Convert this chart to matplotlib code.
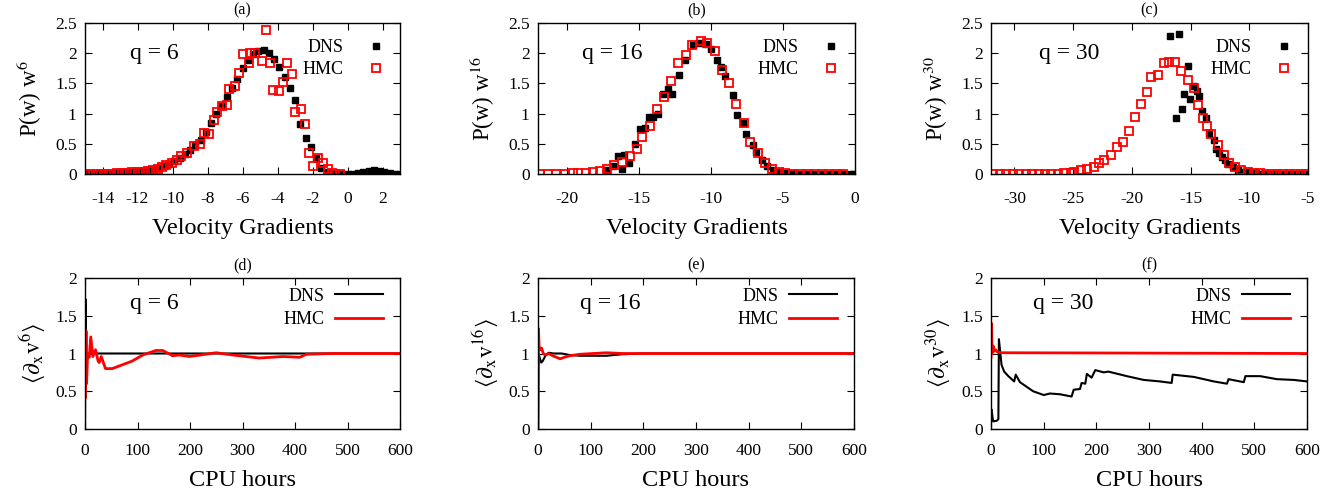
import numpy as np
import matplotlib
matplotlib.use('Agg')
import matplotlib.pyplot as plt
from matplotlib.lines import Line2D
from matplotlib.ticker import FormatStrFormatter

plt.rcParams['font.family'] = ['Liberation Serif', 'DejaVu Serif']
plt.rcParams['mathtext.fontset'] = 'stix'
plt.rcParams['axes.unicode_minus'] = False

# ---- (a) q = 6 ----
dns_a_x = [-15.0, -14.7, -14.4, -14.1, -13.8, -13.5, -13.2, -12.9, -12.6, -12.3,
           -12.0, -11.7, -11.4, -11.1, -10.8, -10.5, -10.2, -9.9, -9.6, -9.3,
           -9.0, -8.7, -8.4, -8.1, -7.8, -7.5, -7.2, -6.9, -6.6, -6.3,
           -6.0, -5.7, -5.4, -5.1, -4.8, -4.5, -4.2, -3.9, -3.6, -3.3,
           -3.0, -2.7, -2.4, -2.1, -1.8, -1.5, -1.2, -0.9, -0.6, -0.3,
           0.0, 0.3, 0.6, 0.9, 1.2, 1.5, 1.8, 2.1, 2.4, 2.7, 3.0]
dns_a_y = [0.0, 0.0, 0.0, 0.0, 0.005, 0.007, 0.01, 0.015, 0.02, 0.025,
           0.035, 0.045, 0.06, 0.075, 0.1, 0.13, 0.17, 0.21, 0.27, 0.33,
           0.4, 0.48, 0.57, 0.7, 0.84, 1.0, 1.13, 1.28, 1.42, 1.57,
           1.75, 1.88, 1.98, 2.03, 2.05, 2.0, 1.9, 1.77, 1.6, 1.42,
           1.22, 0.82, 0.6, 0.45, 0.26, 0.1, 0.04, 0.015, 0.005, 0.0,
           0.0, 0.005, 0.01, 0.03, 0.05, 0.065, 0.055, 0.03, 0.015, 0.005, 0.0]
hmc_a_x = [-15.0, -14.7, -14.4, -14.1, -13.8, -13.5, -13.2, -12.9, -12.6, -12.3,
           -12.0, -11.7, -11.4, -11.1, -10.85, -10.6, -10.35, -10.05, -9.75, -9.5,
           -9.2, -8.8, -8.45, -8.2, -7.9, -7.65, -7.45, -7.2, -6.9, -6.75,
           -6.45, -6.2, -5.95, -5.65, -5.55, -5.3, -4.9, -4.68, -4.43, -4.24,
           -3.9, -3.7, -3.44, -3.19, -3.0, -2.66, -2.43, -2.2, -1.95, -1.67,
           -1.42, -1.1, -0.9, -0.7, -0.45]
hmc_a_y = [0.0, 0.0, 0.0, 0.003, 0.005, 0.008, 0.01, 0.015, 0.02, 0.025,
           0.03, 0.04, 0.05, 0.065, 0.09, 0.12, 0.15, 0.19, 0.23, 0.29,
           0.35, 0.47, 0.49, 0.68, 0.67, 0.9, 1.03, 1.12, 1.15, 1.4,
           1.45, 1.67, 1.99, 1.84, 2.0, 2.0, 1.87, 2.38, 1.84, 1.39,
           1.38, 1.52, 1.83, 1.65, 1.03, 1.07, 0.83, 0.34, 0.14, 0.26,
           0.18, 0.08, 0.01, 0.0, 0.0]

# ---- (b) q = 16 ----
dns_b_x = [-17.2, -16.8, -16.48, -16.2, -16.04, -15.69, -15.27, -14.92, -14.6, -14.3,
           -14.04, -13.7, -13.3, -12.95, -12.72, -12.23, -11.79, -11.26, -10.86, -10.33,
           -10.0, -9.59, -9.31, -9.0, -8.5, -8.2, -7.78, -7.55, -7.1, -6.85,
           -6.45, -6.1, -5.69, -5.3, -4.85, -4.4, -3.95, -3.5, -3.05, -2.6,
           -2.15, -1.7, -1.25, -0.8, -0.35, -0.07]
dns_b_y = [0.06, 0.13, 0.29, 0.09, 0.31, 0.18, 0.5, 0.74, 0.76, 0.94,
           0.95, 1.0, 1.32, 1.4, 1.32, 1.64, 1.88, 2.13, 2.17, 2.15,
           2.07, 1.88, 1.77, 1.62, 1.3, 0.97, 0.85, 0.67, 0.48, 0.37,
           0.24, 0.14, 0.07, 0.04, 0.02, 0.01, 0.0, 0.0, 0.0, 0.0,
           0.0, 0.0, 0.0, 0.0, 0.0, 0.0]
hmc_b_x = [-21.88, -21.3, -20.72, -20.14, -19.6, -19.2, -18.64, -18.17, -17.7, -17.24,
           -16.73, -16.2, -15.62, -15.16, -14.76, -14.23, -13.76, -13.23, -12.77, -12.26,
           -11.74, -11.28, -10.7, -10.28, -9.75, -9.24, -8.73, -8.24, -7.73, -7.27,
           -6.76, -6.27, -5.76, -5.3, -4.83, -4.3, -3.8, -3.3, -2.8, -2.3,
           -1.8, -1.3, -0.8]
hmc_b_y = [0.0, 0.0, 0.0, 0.005, 0.01, 0.01, 0.02, 0.03, 0.05, 0.09,
           0.15, 0.2, 0.29, 0.42, 0.62, 0.79, 1.07, 1.27, 1.54, 1.83,
           1.97, 2.13, 2.21, 2.17, 2.03, 1.72, 1.5, 1.16, 0.84, 0.53,
           0.34, 0.18, 0.09, 0.04, 0.01, 0.0, 0.0, 0.0, 0.0, 0.0,
           0.0, 0.0, 0.0]

# ---- (c) q = 30 ----
dns_c_x = [-16.73, -16.25, -15.96, -15.76, -15.53, -15.25, -15.02, -14.68, -14.45, -14.25,
           -14.05, -13.68, -13.4, -13.03, -12.83, -12.54, -12.3, -12.11, -11.83, -11.4,
           -10.97, -10.4, -9.9, -9.45, -9.0, -8.55, -8.1, -7.65, -7.2, -6.75,
           -6.3, -5.85, -5.4, -5.0]
dns_c_y = [2.28, 0.92, 2.31, 1.08, 1.33, 1.78, 1.25, 1.45, 1.38, 1.29,
           1.05, 0.92, 0.67, 0.56, 0.41, 0.34, 0.28, 0.23, 0.17, 0.12,
           0.07, 0.04, 0.02, 0.01, 0.0, 0.0, 0.0, 0.0, 0.0, 0.0,
           0.0, 0.0, 0.0, 0.0]
hmc_c_x = [-31.8, -31.25, -30.7, -30.15, -29.6, -29.05, -28.5, -27.95, -27.4, -26.85,
           -26.3, -25.75, -25.2, -24.93, -24.36, -23.8, -23.23, -22.8, -22.37, -21.8,
           -21.23, -20.72, -20.23, -19.75, -19.24, -18.72, -18.33, -17.75, -17.3, -16.81,
           -16.3, -15.82, -15.25, -14.74, -14.34, -13.97, -13.6, -13.25, -12.68, -12.17,
           -11.69, -11.26, -10.69, -10.12, -9.6, -9.1, -8.6, -8.1, -7.6, -7.1,
           -6.6, -6.1, -5.6, -5.15]
hmc_c_y = [0.0, 0.0, 0.0, 0.0, 0.0, 0.0, 0.0, 0.0, 0.0, 0.005,
           0.005, 0.01, 0.02, 0.04, 0.07, 0.09, 0.12, 0.18, 0.23, 0.31,
           0.44, 0.53, 0.72, 0.95, 1.16, 1.36, 1.6, 1.64, 1.83, 1.86,
           1.86, 1.7, 1.55, 1.42, 1.14, 0.92, 0.8, 0.67, 0.48, 0.31,
           0.18, 0.12, 0.07, 0.04, 0.02, 0.01, 0.0, 0.0, 0.0, 0.0,
           0.0, 0.0, 0.0, 0.0]

# ---- (d) q = 6, convergence ----
dns_d_t = [0, 1, 2, 600]
dns_d_v = [0.0, 1.72, 1.0, 1.0]
hmc_d_t = [1, 2, 3, 5, 8, 11, 15, 20, 25, 27, 31, 39, 52, 71, 90, 110, 135, 148,
           167, 180, 199, 230, 250, 281, 332, 377, 409, 422, 472, 600]
hmc_d_v = [0.42, 1.3, 0.6, 1.0, 0.95, 1.22, 0.96, 1.05, 0.9, 0.88, 0.96, 0.8, 0.8,
           0.85, 0.9, 0.98, 1.04, 1.04, 0.97, 0.98, 0.96, 0.99, 1.01, 0.98, 0.94,
           0.96, 0.95, 0.99, 1.0, 1.0]

# ---- (e) q = 16 ----
dns_e_t = [0, 1, 3, 6, 9, 14, 20, 30, 45, 60, 80, 100, 130, 160, 200, 600]
dns_e_v = [0.0, 1.0, 0.95, 0.88, 0.9, 0.97, 1.01, 1.0, 1.0, 0.98, 0.97, 0.97, 0.97,
           0.99, 1.0, 1.0]
hmc_e_t = [0, 1, 2, 4, 7, 10, 14, 20, 28, 35, 42, 50, 60, 80, 130, 160, 600]
hmc_e_v = [0.0, 1.33, 1.1, 1.05, 1.07, 1.0, 0.98, 1.0, 0.97, 0.95, 0.93, 0.95, 0.97,
           0.99, 1.01, 1.0, 1.0]

# ---- (f) q = 30 ----
dns_f_t = [0.5, 1, 4, 11, 14, 15, 20, 25, 33, 44, 47, 55, 80, 100, 112, 131, 153, 157,
           169, 172, 179, 182, 191, 198, 214, 223, 258, 290, 321, 343, 345, 385, 423,
           448, 451, 480, 483, 511, 543, 575, 600]
dns_f_v = [0.25, 0.26, 0.1, 0.11, 0.13, 1.19, 0.85, 0.76, 0.7, 0.63, 0.72, 0.62, 0.5,
           0.45, 0.47, 0.46, 0.43, 0.52, 0.53, 0.61, 0.6, 0.73, 0.68, 0.78, 0.75, 0.76,
           0.7, 0.65, 0.63, 0.61, 0.72, 0.69, 0.63, 0.6, 0.66, 0.62, 0.7, 0.7, 0.66,
           0.65, 0.63]
hmc_f_t = [0, 1, 2, 4, 6, 9, 12, 20, 600]
hmc_f_v = [0.95, 1.4, 1.0, 1.1, 1.03, 1.05, 1.02, 1.01, 1.0]

W, H = 1344, 504
fig = plt.figure(figsize=(W / 100, H / 100), dpi=100)

def ax_at(left, top, width, height):
    return fig.add_axes([left / W, 1 - (top + height) / H, width / W, height / H])

def style_axes(ax, xpad):
    ax.tick_params(direction='in', top=True, right=True, length=5, width=0.8,
                   labelsize=12.5)
    ax.tick_params(axis='x', pad=xpad)
    ax.tick_params(axis='y', pad=6)
    for s in ax.spines.values():
        s.set_linewidth(1.0)

def panel_pdf(ax, xd, yd, xh, yh, q, xlim, xticks, letter, qx):
    ax.plot(xd, yd, ls='none', marker='s', ms=4.3, color='black', mec='black')
    ax.plot(xh, yh, ls='none', marker='s', ms=5.2, mfc='none', mec='red', mew=1.3)
    ax.set_xlim(*xlim)
    ax.set_ylim(0, 2.5)
    ax.set_xticks(xticks)
    ax.set_yticks([0, 0.5, 1, 1.5, 2, 2.5])
    ax.yaxis.set_major_formatter(FormatStrFormatter('%g'))
    style_axes(ax, 12)
    ax.set_title(letter, fontsize=11.5, pad=6)
    ax.set_xlabel('Velocity Gradients', fontsize=17.5, labelpad=8)
    ax.set_ylabel('P(w) w$^{%d}$' % q, fontsize=16.5, labelpad=8)
    ax.text(qx, 0.8, 'q = %d' % q, transform=ax.transAxes, fontsize=17, va='center')
    handles = [Line2D([], [], ls='none', marker='s', ms=4.3, color='black'),
               Line2D([], [], ls='none', marker='s', ms=5.2, mfc='none', mec='red', mew=1.3)]
    ax.legend(handles, ['DNS', 'HMC'], loc='upper right', bbox_to_anchor=(1.0, 0.895),
              markerfirst=False, frameon=False, fontsize=13, borderpad=0,
              borderaxespad=0, handlelength=2.65, handletextpad=0.5,
              labelspacing=0.28, numpoints=1)

def panel_conv(ax, td, vd, th, vh, q, letter, qx):
    ax.plot(td, vd, color='black', lw=1.5)
    ax.plot(th, vh, color='red', lw=2.0)
    ax.set_xlim(0, 600)
    ax.set_ylim(0, 2)
    ax.set_xticks([0, 100, 200, 300, 400, 500, 600])
    ax.set_yticks([0, 0.5, 1, 1.5, 2])
    ax.yaxis.set_major_formatter(FormatStrFormatter('%g'))
    style_axes(ax, 10)
    ax.set_title(letter, fontsize=11.5, pad=6)
    ax.set_xlabel('CPU hours', fontsize=17.5, labelpad=8)
    ax.set_ylabel(r'$\langle\partial_{\rm x}{\rm v}^{%d}\rangle$' % q, fontsize=17,
                  labelpad=6)
    ax.text(qx, 0.834, 'q = %d' % q, transform=ax.transAxes, fontsize=17, va='center')
    handles = [Line2D([], [], color='black', lw=1.5), Line2D([], [], color='red', lw=2.0)]
    ax.legend(handles, ['DNS', 'HMC'], loc='upper right', bbox_to_anchor=(0.945, 0.937),
              markerfirst=False, frameon=False, fontsize=13, borderpad=0,
              borderaxespad=0, handlelength=2.65, handletextpad=0.55,
              labelspacing=0.37)

ax_a = ax_at(85, 23, 315, 151)
ax_b = ax_at(538, 23, 317, 151)
ax_c = ax_at(991, 23, 317, 151)
ax_d = ax_at(85, 278, 315, 151)
ax_e = ax_at(538, 278, 316, 151)
ax_f = ax_at(991, 278, 316, 151)

panel_pdf(ax_a, dns_a_x, dns_a_y, hmc_a_x, hmc_a_y, 6, (-15, 3),
          [-14, -12, -10, -8, -6, -4, -2, 0, 2], '(a)', 0.143)
panel_pdf(ax_b, dns_b_x, dns_b_y, hmc_b_x, hmc_b_y, 16, (-22, 0),
          [-20, -15, -10, -5, 0], '(b)', 0.139)
panel_pdf(ax_c, dns_c_x, dns_c_y, hmc_c_x, hmc_c_y, 30, (-32, -5),
          [-30, -25, -20, -15, -10, -5], '(c)', 0.151)

panel_conv(ax_d, dns_d_t, dns_d_v, hmc_d_t, hmc_d_v, 6, '(d)', 0.143)
panel_conv(ax_e, dns_e_t, dns_e_v, hmc_e_t, hmc_e_v, 16, '(e)', 0.133)
panel_conv(ax_f, dns_f_t, dns_f_v, hmc_f_t, hmc_f_v, 30, '(f)', 0.133)

fig.savefig('out.png', dpi=100)
